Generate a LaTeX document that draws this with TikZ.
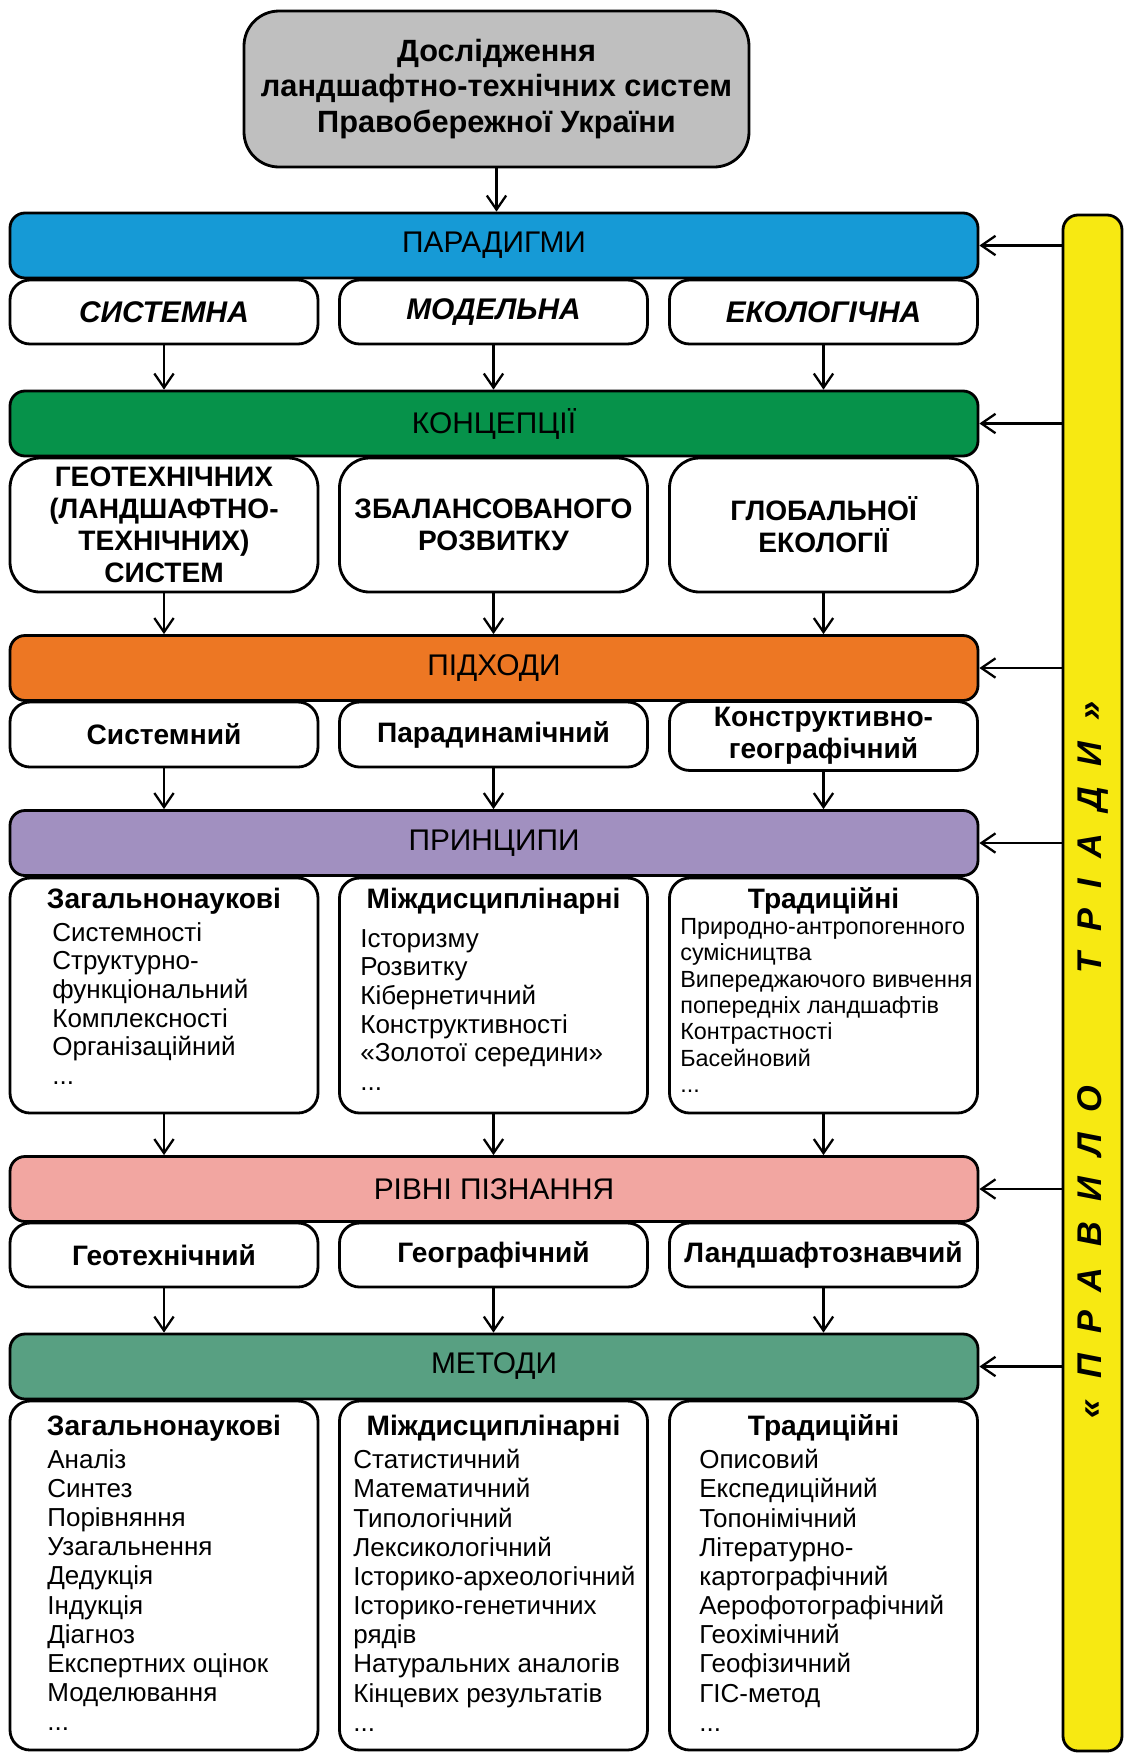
\documentclass[tikz,border=0pt]{standalone}
\usepackage{fontspec}
\setmainfont{Liberation Sans}
\usetikzlibrary{arrows.meta}
\definecolor{topgray}{RGB}{191,191,191}
\definecolor{parblue}{RGB}{22,154,214}
\definecolor{kongreen}{RGB}{6,146,74}
\definecolor{pidorange}{RGB}{237,119,35}
\definecolor{prypurple}{RGB}{161,144,192}
\definecolor{rivpink}{RGB}{242,166,161}
\definecolor{metteal}{RGB}{88,160,130}
\definecolor{baryellow}{RGB}{247,233,18}

\begin{document}
\begin{tikzpicture}[>={Straight Barb[length=8pt,width=11pt]},
    band/.style={draw,line width=1.6pt,rounded corners=0.3cm,minimum width=19.36cm,minimum height=1.3cm,
      font=\fontsize{17}{20}\selectfont},
    cell/.style={draw,line width=1.6pt,rounded corners=0.4cm,fill=white,minimum width=6.16cm,align=center,
      font=\fontsize{16}{18.2}\selectfont\bfseries},
    head/.style={anchor=base,font=\fontsize{16}{18}\selectfont\bfseries},
    items/.style={anchor=north west,align=left,inner sep=0pt,font=\fontsize{14.8}{16.3}\selectfont},
    link/.style={->,line width=1.3pt}]
  \useasboundingbox (0,0) rectangle (22.48,-35.06);

  \node[draw,line width=1.6pt,rounded corners=0.7cm,fill=topgray,minimum width=10.1cm,minimum height=3.12cm,
    align=center,font=\fontsize{17.5}{20}\selectfont\bfseries] (dosl) at (9.93,-1.78)
    {Дослідження\\ландшафтно-технічних систем\\Правобережної України};

  % rows of boxes
  \node[cell,minimum height=1.28cm,font=\fontsize{17}{20}\selectfont\bfseries\itshape] (sys) at (3.28,-6.24) {СИСТЕМНА};
  \node[cell,minimum height=1.28cm,font=\fontsize{17}{20}\selectfont\bfseries\itshape] (mod) at (9.87,-6.24) {МОДЕЛЬНА};
  \node[cell,minimum height=1.28cm,font=\fontsize{17}{20}\selectfont\bfseries\itshape] (eko) at (16.47,-6.24) {ЕКОЛОГІЧНА};

  \node[cell,minimum height=2.68cm,rounded corners=0.6cm] (geot) at (3.28,-10.5)
    {ГЕОТЕХНІЧНИХ\\(ЛАНДШАФТНО-\\ТЕХНІЧНИХ)\\СИСТЕМ};
  \node[cell,minimum height=2.68cm,rounded corners=0.6cm] (zbal) at (9.87,-10.5) {ЗБАЛАНСОВАНОГО\\РОЗВИТКУ};
  \node[cell,minimum height=2.68cm,rounded corners=0.6cm] (glob) at (16.47,-10.5) {ГЛОБАЛЬНОЇ\\ЕКОЛОГІЇ};

  \node[cell,minimum height=1.3cm] (sysp) at (3.28,-14.69) {Системний};
  \node[cell,minimum height=1.3cm] (parp) at (9.87,-14.69) {Парадинамічний};
  \node[cell,minimum height=1.3cm] (konp) at (16.47,-14.72) {Конструктивно-\\географічний};

  \node[cell,minimum height=4.7cm] (zagp) at (3.28,-19.91) {};
  \node[cell,minimum height=4.7cm] (mizp) at (9.87,-19.91) {};
  \node[cell,minimum height=4.7cm] (trap) at (16.47,-19.91) {};
  \node[head] (zagph) at (3.28,-18.16) {Загальнонаукові};
  \node[head] (mizph) at (9.87,-18.16) {Міждисциплінарні};
  \node[head] (traph) at (16.47,-18.16) {Традиційні};
  \node[items] (zagpl) at (1.04,-18.44)
    {Системності\\Структурно-\\функціональний\\Комплексності\\Організаційний\\...};
  \node[items] (mizpl) at (7.2,-18.58)
    {Історизму\\Розвитку\\Кібернетичний\\Конструктивності\\«Золотої середини»\\...};
  \node[items,font=\fontsize{13.3}{15}\selectfont] (trapl) at (13.6,-18.36)
    {Природно-антропогенного\\сумісництва\\Випереджаючого вивчення\\попередніх ландшафтів\\Контрастності\\Басейновий\\...};

  \node[cell,minimum height=1.28cm] (geor) at (3.28,-25.1) {Геотехнічний};
  \node[cell,minimum height=1.28cm] (gegr) at (9.87,-25.1) {Географічний};
  \node[cell,minimum height=1.28cm] (lanr) at (16.47,-25.1) {Ландшафтознавчий};

  \node[cell,minimum height=6.98cm] (zagm) at (3.28,-31.51) {};
  \node[cell,minimum height=6.98cm] (mizm) at (9.87,-31.51) {};
  \node[cell,minimum height=6.98cm] (tram) at (16.47,-31.51) {};
  \node[head] (zagmh) at (3.28,-28.7) {Загальнонаукові};
  \node[head] (mizmh) at (9.87,-28.7) {Міждисциплінарні};
  \node[head] (tramh) at (16.47,-28.7) {Традиційні};
  \node[items,font=\fontsize{14.8}{16.6}\selectfont] (zagml) at (0.94,-28.98)
    {Аналіз\\Синтез\\Порівняння\\Узагальнення\\Дедукція\\Індукція\\Діагноз\\Експертних оцінок\\Моделювання\\...};
  \node[items,font=\fontsize{14.8}{16.6}\selectfont] (mizml) at (7.06,-28.98)
    {Статистичний\\Математичний\\Типологічний\\Лексикологічний\\Історико-археологічний\\Історико-генетичних\\рядів\\Натуральних аналогів\\Кінцевих результатів\\...};
  \node[items,font=\fontsize{14.8}{16.6}\selectfont] (traml) at (13.98,-28.98)
    {Описовий\\Експедиційний\\Топонімічний\\Літературно-\\картографічний\\Аерофотографічний\\Геохімічний\\Геофізичний\\ГІС-метод\\...};

  % coloured bands
  \node[band,fill=parblue] (par) at (9.88,-4.91) {ПАРАДИГМИ};
  \node[band,fill=kongreen] (kon) at (9.88,-8.47) {КОНЦЕПЦІЇ};
  \node[band,fill=pidorange] (pid) at (9.88,-13.36) {ПІДХОДИ};
  \node[band,fill=prypurple] (pry) at (9.88,-16.86) {ПРИНЦИПИ};
  \node[band,fill=rivpink] (riv) at (9.88,-23.78) {РІВНІ ПІЗНАННЯ};
  \node[band,fill=metteal] (met) at (9.88,-27.33) {МЕТОДИ};

  \node[draw,line width=1.6pt,rounded corners=0.3cm,fill=baryellow,minimum width=1.18cm,minimum height=30.72cm]
    (bar) at (21.85,-19.66) {};
  \node[rotate=90,font=\fontsize{19.5}{22}\selectfont\bfseries\itshape\addfontfeatures{LetterSpace=60}] (rule)
    at (21.86,-21.2) {«ПРАВИЛО\hspace{64pt}ТРІАДИ»};

  % arrows
  \draw[link] (dosl.south) -- (dosl.south |- par.north);
  \draw[link] (sys) -- (sys |- kon.north);
  \draw[link] (mod) -- (mod |- kon.north);
  \draw[link] (eko) -- (eko |- kon.north);
  \draw[link] (geot) -- (geot |- pid.north);
  \draw[link] (zbal) -- (zbal |- pid.north);
  \draw[link] (glob) -- (glob |- pid.north);
  \draw[link] (sysp) -- (sysp |- pry.north);
  \draw[link] (parp) -- (parp |- pry.north);
  \draw[link] (konp) -- (konp |- pry.north);
  \draw[link] (zagp) -- (zagp |- riv.north);
  \draw[link] (mizp) -- (mizp |- riv.north);
  \draw[link] (trap) -- (trap |- riv.north);
  \draw[link] (geor) -- (geor |- met.north);
  \draw[link] (gegr) -- (gegr |- met.north);
  \draw[link] (lanr) -- (lanr |- met.north);

  \draw[link] (bar.west |- par) -- (par);
  \draw[link] (bar.west |- kon) -- (kon);
  \draw[link] (bar.west |- pid) -- (pid);
  \draw[link] (bar.west |- pry) -- (pry);
  \draw[link] (bar.west |- riv) -- (riv);
  \draw[link] (bar.west |- met) -- (met);
\end{tikzpicture}
\end{document}
